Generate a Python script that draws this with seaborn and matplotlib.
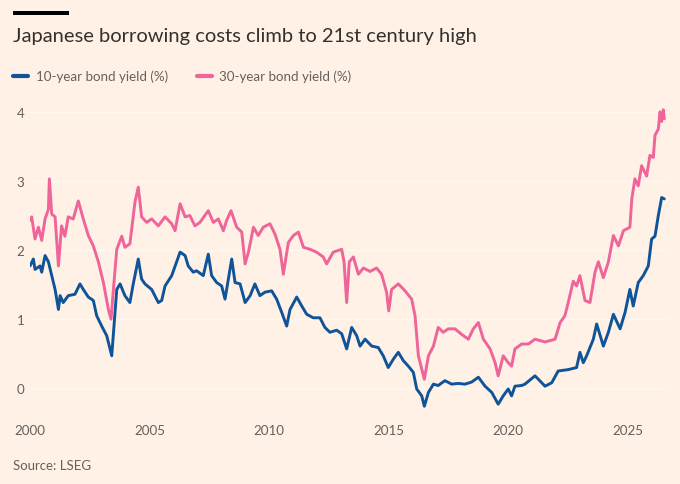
import numpy as np
import pandas as pd
import matplotlib
matplotlib.use("Agg")
import matplotlib.pyplot as plt
import seaborn as sns
from matplotlib.patches import Rectangle

# ---------------- data ----------------
ten_year_t = [2000.00, 2000.14, 2000.21, 2000.42, 2000.49, 2000.63, 2000.77, 2000.91,
              2001.05, 2001.19, 2001.26, 2001.39, 2001.60, 2001.88, 2002.09, 2002.23,
              2002.44, 2002.65, 2002.79, 2003.00, 2003.21, 2003.42, 2003.56, 2003.63,
              2003.77, 2003.97, 2004.18, 2004.32, 2004.53, 2004.67, 2004.81, 2005.09,
              2005.37, 2005.51, 2005.65, 2005.93, 2006.28, 2006.49, 2006.62, 2006.83,
              2006.97, 2007.25, 2007.46, 2007.60, 2007.81, 2008.02, 2008.16, 2008.30,
              2008.44, 2008.58, 2008.79, 2009.00, 2009.21, 2009.41, 2009.62, 2009.83,
              2010.11, 2010.32, 2010.53, 2010.74, 2010.88, 2011.16, 2011.37, 2011.58,
              2011.85, 2012.13, 2012.34, 2012.55, 2012.83, 2013.04, 2013.25, 2013.46,
              2013.67, 2013.81, 2014.02, 2014.30, 2014.57, 2014.78, 2014.99, 2015.20,
              2015.41, 2015.62, 2015.83, 2016.04, 2016.18, 2016.39, 2016.50, 2016.67,
              2016.88, 2017.08, 2017.36, 2017.64, 2017.92, 2018.20, 2018.48, 2018.76,
              2019.04, 2019.32, 2019.59, 2019.80, 2020.01, 2020.15, 2020.29, 2020.57,
              2020.71, 2021.13, 2021.55, 2021.83, 2022.10, 2022.52, 2022.87, 2023.01,
              2023.15, 2023.29, 2023.57, 2023.71, 2023.99, 2024.20, 2024.41, 2024.69,
              2024.90, 2025.10, 2025.24, 2025.45, 2025.66, 2025.87, 2026.01, 2026.15,
              2026.29, 2026.43, 2026.54]
ten_year_v = [1.77, 1.87, 1.72, 1.77, 1.68, 1.92, 1.83, 1.63,
              1.43, 1.14, 1.34, 1.24, 1.34, 1.36, 1.51, 1.43,
              1.32, 1.27, 1.05, 0.90, 0.76, 0.47, 1.10, 1.43,
              1.51, 1.34, 1.24, 1.51, 1.87, 1.58, 1.51, 1.43,
              1.24, 1.27, 1.48, 1.63, 1.97, 1.92, 1.77, 1.68,
              1.70, 1.63, 1.94, 1.63, 1.53, 1.48, 1.29, 1.58,
              1.87, 1.53, 1.51, 1.24, 1.34, 1.51, 1.34, 1.39,
              1.41, 1.29, 1.10, 0.90, 1.14, 1.32, 1.19, 1.07,
              1.02, 1.02, 0.88, 0.81, 0.84, 0.79, 0.57, 0.88,
              0.76, 0.61, 0.71, 0.61, 0.59, 0.47, 0.30, 0.42,
              0.52, 0.40, 0.32, 0.23, -0.01, -0.11, -0.26, -0.06,
              0.06, 0.04, 0.11, 0.06, 0.07, 0.06, 0.09, 0.16,
              0.03, -0.06, -0.23, -0.11, -0.01, -0.11, 0.03, 0.04,
              0.06, 0.18, 0.03, 0.08, 0.25, 0.27, 0.30, 0.52,
              0.37, 0.47, 0.71, 0.93, 0.61, 0.81, 1.07, 0.86,
              1.10, 1.43, 1.19, 1.53, 1.63, 1.77, 2.16, 2.20,
              2.50, 2.76, 2.74]

thirty_year_t = [2000.00, 2000.07, 2000.21, 2000.35, 2000.49, 2000.63, 2000.77, 2000.81,
                 2000.91, 2001.05, 2001.19, 2001.32, 2001.46, 2001.60, 2001.81, 2002.02,
                 2002.23, 2002.44, 2002.65, 2002.86, 2003.07, 2003.28, 2003.39, 2003.49,
                 2003.63, 2003.84, 2003.97, 2004.18, 2004.39, 2004.53, 2004.67, 2004.88,
                 2005.09, 2005.37, 2005.65, 2005.93, 2006.07, 2006.28, 2006.49, 2006.69,
                 2006.90, 2007.11, 2007.46, 2007.67, 2007.88, 2008.09, 2008.23, 2008.41,
                 2008.65, 2008.86, 2009.00, 2009.14, 2009.35, 2009.55, 2009.76, 2010.04,
                 2010.25, 2010.46, 2010.60, 2010.81, 2011.02, 2011.23, 2011.44, 2011.72,
                 2011.99, 2012.27, 2012.41, 2012.69, 2013.04, 2013.14, 2013.25, 2013.36,
                 2013.53, 2013.74, 2013.95, 2014.23, 2014.50, 2014.71, 2014.92, 2015.01,
                 2015.13, 2015.41, 2015.69, 2015.97, 2016.11, 2016.25, 2016.50, 2016.67,
                 2016.88, 2017.08, 2017.29, 2017.50, 2017.78, 2018.06, 2018.34, 2018.55,
                 2018.76, 2018.97, 2019.25, 2019.46, 2019.59, 2019.80, 2020.01, 2020.15,
                 2020.29, 2020.57, 2020.85, 2021.13, 2021.55, 2021.97, 2022.18, 2022.38,
                 2022.52, 2022.73, 2022.87, 2023.01, 2023.22, 2023.43, 2023.64, 2023.78,
                 2023.99, 2024.20, 2024.41, 2024.62, 2024.83, 2025.10, 2025.18, 2025.31,
                 2025.45, 2025.59, 2025.80, 2025.94, 2026.08, 2026.15, 2026.29, 2026.36,
                 2026.43, 2026.50, 2026.54]
thirty_year_v = [2.43, 2.48, 2.16, 2.33, 2.14, 2.45, 2.59, 3.03,
                 2.52, 2.48, 1.77, 2.35, 2.20, 2.48, 2.45, 2.71,
                 2.45, 2.21, 2.06, 1.83, 1.53, 1.14, 1.00, 1.43,
                 2.01, 2.20, 2.04, 2.09, 2.69, 2.91, 2.48, 2.40,
                 2.45, 2.35, 2.48, 2.38, 2.28, 2.67, 2.48, 2.50,
                 2.35, 2.40, 2.57, 2.40, 2.45, 2.28, 2.43, 2.57,
                 2.33, 2.26, 1.80, 1.97, 2.33, 2.21, 2.33, 2.38,
                 2.23, 2.01, 1.65, 2.11, 2.21, 2.26, 2.04, 2.01,
                 1.97, 1.90, 1.80, 1.97, 2.01, 1.83, 1.24, 1.83,
                 1.90, 1.65, 1.74, 1.69, 1.74, 1.65, 1.39, 1.12,
                 1.43, 1.51, 1.41, 1.29, 1.05, 0.47, 0.13, 0.47,
                 0.61, 0.88, 0.81, 0.86, 0.86, 0.78, 0.71, 0.86,
                 0.95, 0.71, 0.57, 0.37, 0.18, 0.47, 0.37, 0.32,
                 0.57, 0.64, 0.64, 0.71, 0.67, 0.71, 0.95, 1.05,
                 1.24, 1.55, 1.48, 1.63, 1.27, 1.24, 1.68, 1.83,
                 1.60, 1.83, 2.21, 2.06, 2.28, 2.33, 2.74, 3.03,
                 2.93, 3.22, 3.07, 3.37, 3.34, 3.66, 3.75, 4.00,
                 3.86, 4.03, 3.90]

series_names = ["10-year bond yield (%)", "30-year bond yield (%)"]
x_ticks = [2000, 2005, 2010, 2015, 2020, 2025]
y_ticks = [0, 1, 2, 3, 4]
title = "Japanese borrowing costs climb to 21st century high"
source = "Source: LSEG"

# ---------------- style ----------------
BG = "#FFF1E5"
BLUE = "#0F5499"
PINK = "#EF6499"
TXT = "#66605C"
DARK = "#33302E"
GRID = "#FFF8F1"

sns.set_theme(style="white")
plt.rcParams["font.family"] = ["Lato", "DejaVu Sans"]

W, H = 680, 485
fig = plt.figure(figsize=(W / 100, H / 100), dpi=100, facecolor=BG)
renderer = fig.canvas.get_renderer()


def fit_size(txt, target_px, **kw):
    t = fig.text(0, 0, txt, fontsize=10, **kw)
    w = t.get_window_extent(renderer).width
    t.remove()
    return 10 * target_px / w


df = pd.concat([
    pd.DataFrame({"year": ten_year_t, "yield": ten_year_v, "series": series_names[0]}),
    pd.DataFrame({"year": thirty_year_t, "yield": thirty_year_v, "series": series_names[1]}),
], ignore_index=True)

ax = fig.add_axes([30 / W, 1 - 410 / H, 638 / W, 311 / H])
ax.set_facecolor(BG)
sns.lineplot(data=df, x="year", y="yield", hue="series",
             palette={series_names[0]: BLUE, series_names[1]: PINK},
             estimator=None, sort=False, linewidth=2.1, legend=False, ax=ax)

ax.set_xlim(2000, 2000 + 638 / 23.9)
ax.set_ylim(-0.3, 4.2)
ax.set_xlabel("")
ax.set_ylabel("")
for s in ax.spines.values():
    s.set_visible(False)

tick_fs = fit_size("2000", 31)
ax.set_xticks(x_ticks)
ax.set_xticklabels([str(v) for v in x_ticks])
ax.set_yticks(y_ticks)
ax.set_yticklabels([str(v) for v in y_ticks])
ax.tick_params(axis="x", length=6, width=1, color=GRID, pad=5,
               labelsize=tick_fs, labelcolor=TXT)
ax.tick_params(axis="y", length=0, pad=4, labelsize=tick_fs, labelcolor=TXT)
ax.yaxis.grid(True, color=GRID, linewidth=1)
ax.xaxis.grid(False)
ax.set_axisbelow(True)

# top bar and title
fig.add_artist(Rectangle((13 / W, 1 - 15.7 / H), 56 / W, 4 / H,
                         transform=fig.transFigure, color="black", lw=0))
title_fs = fit_size(title, 464)
fig.text(13 / W, 1 - 41.7 / H, title, fontsize=title_fs, color=DARK, va="baseline")

# legend
leg_fs = fit_size(series_names[0], 132)
fs_px = leg_fs * 100 / 72
handles = ax.get_lines()[:2]
fig.legend(handles, series_names, loc="center left",
           bbox_to_anchor=(13 / W, 1 - 77 / H), ncol=2, frameon=False,
           fontsize=leg_fs, labelcolor=TXT, handlelength=15 / fs_px,
           handletextpad=7.5 / fs_px, columnspacing=29 / fs_px,
           borderpad=0, borderaxespad=0)
for lh in fig.legends[0].get_lines():
    lh.set_linewidth(3)

# source
src_fs = fit_size(source, 78)
fig.text(13 / W, 1 - 466 / H, source, fontsize=src_fs, color=TXT, va="center")

fig.savefig("out.png", dpi=100, facecolor=BG)
